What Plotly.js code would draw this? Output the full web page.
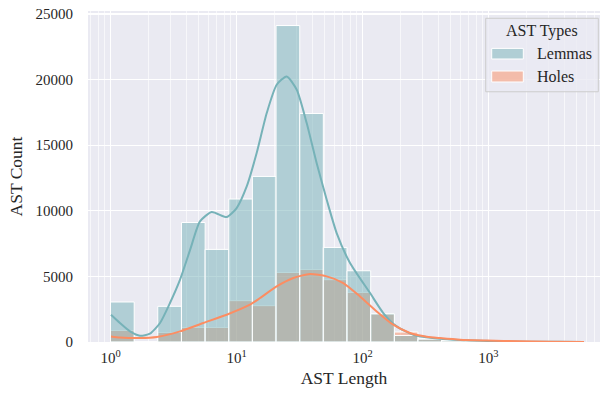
<!DOCTYPE html>
<html>
<head>
<meta charset="utf-8">
<script src="https://cdn.plot.ly/plotly-3.0.1.min.js"></script>
<style>html,body{margin:0;padding:0;background:#fff;}#chart{width:600px;height:396px;}</style>
</head>
<body>
<div id="chart"></div>
<script>
// Histogram bin edges, in log10(AST length)
const binEdgesLog10 = [0, 0.188, 0.375, 0.563, 0.751, 0.939, 1.126, 1.314, 1.502, 1.689, 1.877,
  2.065, 2.253, 2.440, 2.628, 2.816, 3.003, 3.191, 3.379, 3.567, 3.754];
// Counts per bin
const lemmaCounts = [3050, 0, 2720, 9110, 7060, 10900, 12620, 24120, 17420, 7210, 5430,
  2150, 500, 220, 90, 40, 15, 8, 3, 1];
const holeCounts = [880, 0, 730, 1110, 1110, 3150, 2770, 5300, 5530, 4750, 3780,
  2130, 760, 230, 110, 50, 25, 12, 6, 3];
// KDE curves (x in log10 AST length, y in counts)
const lemmaKdeLog10 = [0.004, 0.075, 0.155, 0.234, 0.313, 0.393, 0.472, 0.552, 0.631, 0.710, 0.803,
  0.922, 1.001, 1.081, 1.160, 1.240, 1.319, 1.398, 1.478, 1.557, 1.636, 1.716, 1.795, 1.901,
  2.060, 2.165, 2.271, 2.403, 2.615, 2.774, 2.933, 3.092, 3.329, 3.567, 3.758];
const lemmaKde = [2080, 1450, 810, 480, 630, 1450, 2970, 4750, 7000, 9190, 9906,
  9525, 10211, 11857, 14402, 17450, 19606, 20240, 19225, 16688, 13640, 10843, 8306, 6020,
  3730, 2210, 1190, 556, 250, 150, 90, 55, 28, 10, 3];
const holeKdeLog10 = [0.004, 0.075, 0.234, 0.367, 0.552, 0.737, 0.922, 1.107, 1.187, 1.319, 1.451,
  1.583, 1.716, 1.848, 1.980, 2.113, 2.244, 2.377, 2.510, 2.615, 2.774, 2.986, 3.250, 3.488, 3.758];
const holeKde = [427, 350, 305, 381, 808, 1448, 2080, 2842, 3353, 4237, 4877,
  5182, 5000, 4496, 3475, 2332, 1318, 686, 400, 300, 175, 110, 50, 20, 5];
const seriesNames = ['Lemmas', 'Holes'];
const xTickVals = [0, 1, 2, 3];
const xTickText = ['10<sup>0</sup>', '10<sup>1</sup>', '10<sup>2</sup>', '10<sup>3</sup>'];
const yTickVals = [0, 5000, 10000, 15000, 20000, 25000];
const yTickText = ['0', '5000', '10000', '15000', '20000', '25000'];

const lemmaColor = 'rgb(118,178,184)';
const holeColor = 'rgb(252,141,98)';
const lemmaFill = 'rgba(118,178,184,0.5)';
const holeFill = 'rgba(252,141,98,0.5)';

const centers = [], widths = [];
for (let i = 0; i < binEdgesLog10.length - 1; i++) {
  centers.push((binEdgesLog10[i] + binEdgesLog10[i + 1]) / 2);
  widths.push(binEdgesLog10[i + 1] - binEdgesLog10[i]);
}
const minorVals = [];
for (let k = -1; k <= 3; k++) for (let m = 2; m <= 9; m++) minorVals.push(k + Math.log10(m));

const FAM = '"Liberation Serif", "Times New Roman", serif';
const f = (s) => ({family: FAM, size: s, color: '#262626'});

const traces = [
  {type: 'bar', x: centers, y: holeCounts, width: widths, name: seriesNames[1],
   marker: {color: holeFill, line: {color: 'white', width: 1}}, showlegend: false, hoverinfo: 'skip'},
  {type: 'bar', x: centers, y: lemmaCounts, width: widths, name: seriesNames[0],
   marker: {color: lemmaFill, line: {color: 'white', width: 1}}, showlegend: false, hoverinfo: 'skip'},
  {type: 'scatter', mode: 'lines', x: lemmaKdeLog10, y: lemmaKde, line: {color: lemmaColor, width: 2, shape: 'spline', smoothing: 0.6},
   showlegend: false, hoverinfo: 'skip'},
  {type: 'scatter', mode: 'lines', x: holeKdeLog10, y: holeKde, line: {color: holeColor, width: 2, shape: 'spline', smoothing: 0.6},
   showlegend: false, hoverinfo: 'skip'}
];

const layout = {
  width: 600, height: 396,
  margin: {l: 88, r: 0, t: 11, b: 54},
  paper_bgcolor: 'white', plot_bgcolor: '#eaeaf2',
  barmode: 'overlay', bargap: 0,
  font: f(15),
  xaxis: {
    range: [-0.1786, 3.885], tickmode: 'array', tickvals: xTickVals, ticktext: xTickText,
    showgrid: true, gridcolor: 'white', gridwidth: 1.3, zeroline: false, showline: false,
    ticks: '', ticklabelstandoff: 5, tickfont: f(15),
    minor: {tickmode: 'array', tickvals: minorVals, showgrid: true, gridcolor: 'rgba(255,255,255,0.85)', gridwidth: 0.7, ticks: ''},
    title: {text: 'AST Length', font: f(17.5), standoff: 6}
  },
  yaxis: {
    range: [0, 25230], tickmode: 'array', tickvals: yTickVals, ticktext: yTickText,
    showgrid: true, gridcolor: 'white', gridwidth: 1.3, zeroline: false, showline: false,
    ticks: '', ticklabelstandoff: 14, tickfont: f(15),
    title: {text: 'AST Count', font: f(17.5), standoff: 8}
  },
  shapes: [
    {type: 'rect', xref: 'paper', yref: 'paper', x0: 0.7768, x1: 0.9967, y0: 0.756, y1: 0.978,
     fillcolor: 'rgba(234,234,242,0.8)', line: {color: 'rgb(204,204,204)', width: 1}},
    {type: 'rect', xref: 'paper', yref: 'paper', x0: 0.7885, x1: 0.8502, y0: 0.855, y1: 0.887,
     fillcolor: lemmaFill, line: {color: 'white', width: 1}},
    {type: 'rect', xref: 'paper', yref: 'paper', x0: 0.7885, x1: 0.8502, y0: 0.7855, y1: 0.8187,
     fillcolor: holeFill, line: {color: 'white', width: 1}}
  ],
  annotations: [
    {xref: 'paper', yref: 'paper', x: 0.886, y: 0.940, text: 'AST Types', showarrow: false,
     xanchor: 'center', yanchor: 'middle', font: f(16)},
    {xref: 'paper', yref: 'paper', x: 0.874, y: 0.871, text: seriesNames[0], showarrow: false,
     xanchor: 'left', yanchor: 'middle', font: f(16)},
    {xref: 'paper', yref: 'paper', x: 0.874, y: 0.802, text: seriesNames[1], showarrow: false,
     xanchor: 'left', yanchor: 'middle', font: f(16)}
  ]
};

Plotly.newPlot('chart', traces, layout, {staticPlot: true, displayModeBar: false});
</script>
</body>
</html>
